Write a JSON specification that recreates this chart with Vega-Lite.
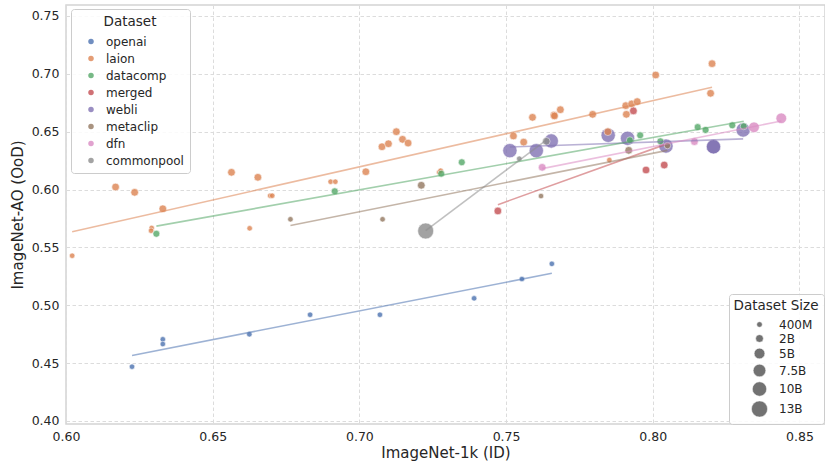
{
  "$schema": "https://vega.github.io/schema/vega-lite/v6.json",
  "autosize": {"type": "none"},
  "padding": {"left": 66, "top": 5, "right": 0, "bottom": 40},
  "width": 759,
  "height": 419,
  "background": "white",
  "config": {
    "font": "DejaVu Sans",
    "view": {"stroke": "#d4d4d4", "strokeWidth": 1.5},
    "axis": {
      "domain": false, "ticks": false, "grid": true, "labelFlush": false,
      "gridColor": "#dcdcdc", "gridDash": [3.5, 2.5], "gridWidth": 1,
      "labelFont": "DejaVu Sans", "labelFontSize": 12.5, "labelColor": "#262626",
      "titleFont": "DejaVu Sans", "titleFontSize": 15, "titleFontWeight": "normal", "titleColor": "#262626"
    },
    "legend": {
      "titleFont": "DejaVu Sans", "labelFont": "DejaVu Sans",
      "titleFontWeight": "normal", "titleColor": "#262626", "labelColor": "#262626",
      "titleAnchor": "middle", "fillColor": "rgba(255,255,255,0.85)", "strokeColor": "#cccccc",
      "cornerRadius": 3
    }
  },
  "data": {"values": [
    {"x": 0.7513, "y": 0.6336, "ds": "webli", "sz": 10},
    {"x": 0.7603, "y": 0.6336, "ds": "webli", "sz": 10},
    {"x": 0.7654, "y": 0.642, "ds": "webli", "sz": 10},
    {"x": 0.7848, "y": 0.6469, "ds": "webli", "sz": 10},
    {"x": 0.7914, "y": 0.6443, "ds": "webli", "sz": 10},
    {"x": 0.8045, "y": 0.6376, "ds": "webli", "sz": 10},
    {"x": 0.8207, "y": 0.637, "ds": "webli", "sz": 10},
    {"x": 0.8207, "y": 0.637, "ds": "webli", "sz": 10},
    {"x": 0.8308, "y": 0.6515, "ds": "webli", "sz": 10},
    {"x": 0.6225, "y": 0.4469, "ds": "openai", "sz": 0.4},
    {"x": 0.633, "y": 0.4706, "ds": "openai", "sz": 0.4},
    {"x": 0.633, "y": 0.4665, "ds": "openai", "sz": 0.4},
    {"x": 0.6625, "y": 0.4749, "ds": "openai", "sz": 0.4},
    {"x": 0.6832, "y": 0.4918, "ds": "openai", "sz": 0.4},
    {"x": 0.707, "y": 0.4918, "ds": "openai", "sz": 0.4},
    {"x": 0.7391, "y": 0.506, "ds": "openai", "sz": 0.4},
    {"x": 0.7554, "y": 0.5227, "ds": "openai", "sz": 0.4},
    {"x": 0.7656, "y": 0.5358, "ds": "openai", "sz": 0.4},
    {"x": 0.6021, "y": 0.5428, "ds": "laion", "sz": 0.4},
    {"x": 0.6169, "y": 0.6022, "ds": "laion", "sz": 2},
    {"x": 0.6234, "y": 0.5976, "ds": "laion", "sz": 2},
    {"x": 0.6292, "y": 0.5668, "ds": "laion", "sz": 0.4},
    {"x": 0.629, "y": 0.5644, "ds": "laion", "sz": 0.4},
    {"x": 0.633, "y": 0.5834, "ds": "laion", "sz": 2},
    {"x": 0.6564, "y": 0.6149, "ds": "laion", "sz": 2},
    {"x": 0.6626, "y": 0.5665, "ds": "laion", "sz": 0.4},
    {"x": 0.6654, "y": 0.6106, "ds": "laion", "sz": 2},
    {"x": 0.6696, "y": 0.5947, "ds": "laion", "sz": 0.4},
    {"x": 0.6703, "y": 0.5947, "ds": "laion", "sz": 0.4},
    {"x": 0.6902, "y": 0.6068, "ds": "laion", "sz": 0.4},
    {"x": 0.6918, "y": 0.6068, "ds": "laion", "sz": 0.4},
    {"x": 0.7022, "y": 0.6154, "ds": "laion", "sz": 2},
    {"x": 0.7077, "y": 0.637, "ds": "laion", "sz": 2},
    {"x": 0.7099, "y": 0.6396, "ds": "laion", "sz": 2},
    {"x": 0.7126, "y": 0.65, "ds": "laion", "sz": 2},
    {"x": 0.7147, "y": 0.6434, "ds": "laion", "sz": 2},
    {"x": 0.7166, "y": 0.6402, "ds": "laion", "sz": 2},
    {"x": 0.7272, "y": 0.6149, "ds": "laion", "sz": 0.4},
    {"x": 0.7277, "y": 0.6163, "ds": "laion", "sz": 0.4},
    {"x": 0.7525, "y": 0.6463, "ds": "laion", "sz": 2},
    {"x": 0.756, "y": 0.641, "ds": "laion", "sz": 2},
    {"x": 0.759, "y": 0.6624, "ds": "laion", "sz": 2},
    {"x": 0.7663, "y": 0.6644, "ds": "laion", "sz": 2},
    {"x": 0.7665, "y": 0.6636, "ds": "laion", "sz": 2},
    {"x": 0.7685, "y": 0.669, "ds": "laion", "sz": 2},
    {"x": 0.7795, "y": 0.665, "ds": "laion", "sz": 2},
    {"x": 0.7847, "y": 0.65, "ds": "laion", "sz": 2},
    {"x": 0.7852, "y": 0.6255, "ds": "laion", "sz": 0.4},
    {"x": 0.7908, "y": 0.6725, "ds": "laion", "sz": 2},
    {"x": 0.791, "y": 0.665, "ds": "laion", "sz": 2},
    {"x": 0.7928, "y": 0.674, "ds": "laion", "sz": 2},
    {"x": 0.7947, "y": 0.676, "ds": "laion", "sz": 2},
    {"x": 0.801, "y": 0.699, "ds": "laion", "sz": 2},
    {"x": 0.8197, "y": 0.6832, "ds": "laion", "sz": 2},
    {"x": 0.8202, "y": 0.7088, "ds": "laion", "sz": 2},
    {"x": 0.6308, "y": 0.5618, "ds": "datacomp", "sz": 1.4},
    {"x": 0.6916, "y": 0.5985, "ds": "datacomp", "sz": 1.4},
    {"x": 0.7279, "y": 0.6137, "ds": "datacomp", "sz": 1.4},
    {"x": 0.7349, "y": 0.6236, "ds": "datacomp", "sz": 1.4},
    {"x": 0.7922, "y": 0.6426, "ds": "datacomp", "sz": 1.4},
    {"x": 0.7957, "y": 0.6469, "ds": "datacomp", "sz": 1.4},
    {"x": 0.8026, "y": 0.6417, "ds": "datacomp", "sz": 1.4},
    {"x": 0.8153, "y": 0.654, "ds": "datacomp", "sz": 1.4},
    {"x": 0.818, "y": 0.6515, "ds": "datacomp", "sz": 1.4},
    {"x": 0.8271, "y": 0.6555, "ds": "datacomp", "sz": 1.4},
    {"x": 0.831, "y": 0.6547, "ds": "datacomp", "sz": 1.4},
    {"x": 0.7472, "y": 0.5815, "ds": "merged", "sz": 2},
    {"x": 0.7934, "y": 0.668, "ds": "merged", "sz": 2},
    {"x": 0.7977, "y": 0.6169, "ds": "merged", "sz": 2},
    {"x": 0.8039, "y": 0.6212, "ds": "merged", "sz": 2},
    {"x": 0.6765, "y": 0.5743, "ds": "metaclip", "sz": 0.4},
    {"x": 0.7079, "y": 0.5743, "ds": "metaclip", "sz": 0.4},
    {"x": 0.7211, "y": 0.6037, "ds": "metaclip", "sz": 2},
    {"x": 0.7619, "y": 0.5944, "ds": "metaclip", "sz": 0.4},
    {"x": 0.7918, "y": 0.6339, "ds": "metaclip", "sz": 2},
    {"x": 0.805, "y": 0.638, "ds": "metaclip", "sz": 1},
    {"x": 0.7623, "y": 0.6192, "ds": "dfn", "sz": 2},
    {"x": 0.8142, "y": 0.6414, "ds": "dfn", "sz": 2},
    {"x": 0.8345, "y": 0.6538, "ds": "dfn", "sz": 5},
    {"x": 0.8438, "y": 0.6616, "ds": "dfn", "sz": 5},
    {"x": 0.7226, "y": 0.5642, "ds": "commonpool", "sz": 12.8},
    {"x": 0.7545, "y": 0.6267, "ds": "commonpool", "sz": 0.4},
    {"x": 0.7637, "y": 0.6417, "ds": "commonpool", "sz": 2}
  ]},
  "layer": [
    {
      "mark": {"type": "circle", "opacity": 0.8, "stroke": "white", "strokeWidth": 0.6},
      "encoding": {
        "x": {"field": "x", "type": "quantitative",
              "scale": {"domain": [0.6, 0.8587], "nice": false, "zero": false},
              "axis": {"title": "ImageNet-1k (ID)", "values": [0.6, 0.65, 0.7, 0.75, 0.8, 0.85], "format": ".2f", "labelPadding": 6, "titlePadding": 3}},
        "y": {"field": "y", "type": "quantitative",
              "scale": {"domain": [0.3974, 0.7595], "nice": false, "zero": false},
              "axis": {"title": "ImageNet-AO (OoD)", "values": [0.4, 0.45, 0.5, 0.55, 0.6, 0.65, 0.7, 0.75], "format": ".2f", "labelPadding": 7, "titlePadding": 6}},
        "color": {"field": "ds", "type": "nominal",
                  "scale": {"domain": ["openai", "laion", "datacomp", "merged", "webli", "metaclip", "dfn", "commonpool"],
                            "range": ["#4c72b0", "#dd8452", "#55a868", "#c44e52", "#8172b3", "#937860", "#da8bc3", "#8c8c8c"]},
                  "legend": {"title": "Dataset", "orient": "none", "legendX": 5, "legendY": 4,
                             "padding": 6, "symbolType": "circle", "symbolSize": 30, "symbolOpacity": 0.8, "symbolStrokeWidth": 0,
                             "symbolOffset": 8, "labelOffset": 9, "rowPadding": 5, "titlePadding": 7,
                             "titleFontSize": 13.5, "labelFontSize": 12}},
        "size": {"field": "sz", "type": "quantitative",
                 "scale": {"type": "linear", "domain": [0.4, 13], "range": [30, 260], "zero": false},
                 "legend": {"title": "Dataset Size", "orient": "none", "legendX": 663, "legendY": 289,
                            "values": [0.4, 2, 5, 7.5, 10, 13],
                            "labelExpr": "datum.value < 1 ? '400M' : datum.value + 'B'",
                            "padding": 5, "symbolType": "circle", "symbolFillColor": "#5a5a5a", "symbolOpacity": 0.85,
                            "symbolStrokeColor": "white", "symbolStrokeWidth": 0.5,
                            "symbolOffset": 12, "labelOffset": 11, "rowPadding": 2, "titlePadding": 6,
                            "titleFontSize": 13.5, "labelFontSize": 12}}
      }
    },
    {
      "transform": [{"regression": "y", "on": "x", "groupby": ["ds"]}],
      "mark": {"type": "line", "opacity": 0.55, "strokeWidth": 1.6},
      "encoding": {
        "x": {"field": "x", "type": "quantitative"},
        "y": {"field": "y", "type": "quantitative"},
        "color": {"field": "ds", "type": "nominal", "legend": null}
      }
    }
  ]
}
